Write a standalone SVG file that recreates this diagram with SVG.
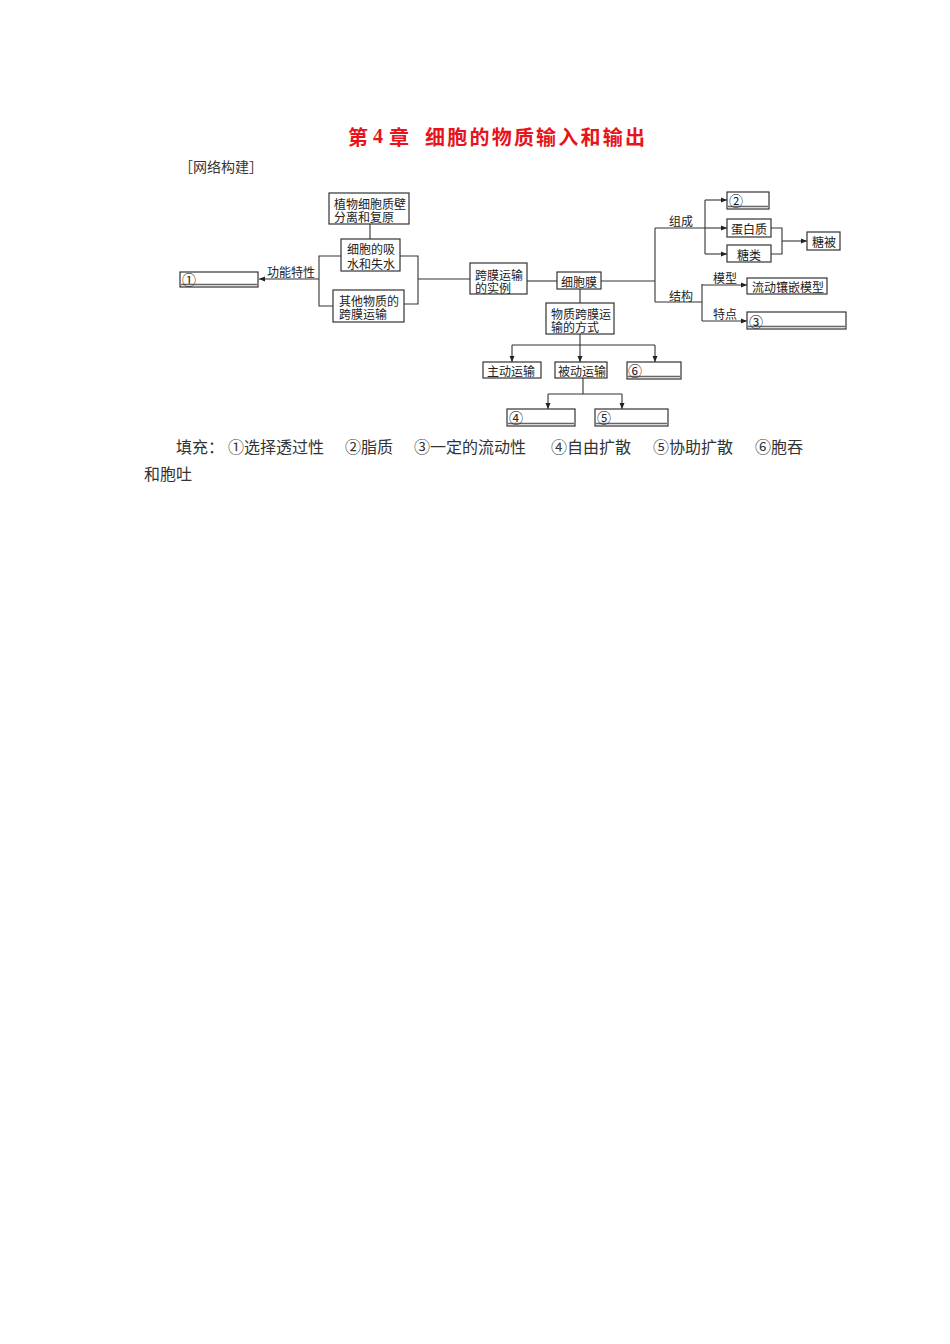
<svg xmlns="http://www.w3.org/2000/svg" width="950" height="1344" viewBox="0 0 950 1344">
<style>
text{font-family:"Noto Sans CJK SC","Noto Sans CJK JP",sans-serif;fill:#222}
.t{font-size:12px;dominant-baseline:central}
.c{font-size:14px;dominant-baseline:central}
.box{fill:#fff;stroke:#333;stroke-width:1.2}
.ln{fill:none;stroke:#333;stroke-width:1.1}
.ul{stroke:#666;stroke-width:1.4}
.title{font-size:20px;font-weight:bold;fill:#e8141b;dominant-baseline:central}
.body{font-size:16px;dominant-baseline:central;fill:#333}
</style>
<defs>
<marker id="ah" markerUnits="userSpaceOnUse" markerWidth="6" markerHeight="6" refX="6" refY="3" orient="auto">
<path d="M0,0.5 L6,3 L0,5.5 z" fill="#222"/>
</marker>
</defs>
<rect width="950" height="1344" fill="#fff"/>

<g id="title">
<text class="title" x="348" y="136">第</text>
<text class="title" x="373" y="136" style="font-family:'Liberation Serif',serif">4</text>
<text class="title" x="389" y="136">章</text>
<text class="title" x="425" y="136" textLength="220" lengthAdjust="spacing">细胞的物质输入和输出</text>
</g>
<g id="subtitle"><text class="body" x="179" y="166" style="font-size:14px">［网络构建］</text></g>

<g id="connectors">
<path class="ln" d="M370,224 V239"/>
<path class="ln" d="M341,256 H319 V306 H333"/>
<path class="ln" d="M319,279 H259" marker-end="url(#ah)"/>
<path class="ln" d="M400,256 H418 V304 H404"/>
<path class="ln" d="M418,279 H470"/>
<path class="ln" d="M527,281 H557"/>
<path class="ln" d="M601,281 H655"/>
<path class="ln" d="M655,228 V302"/>
<path class="ln" d="M655,228 H705"/>
<path class="ln" d="M705,200 V254"/>
<path class="ln" d="M705,200 H727" marker-end="url(#ah)"/>
<path class="ln" d="M705,228 H727" marker-end="url(#ah)"/>
<path class="ln" d="M705,254 H727" marker-end="url(#ah)"/>
<path class="ln" d="M771,228 H782 V254 H771"/>
<path class="ln" d="M782,241 H807" marker-end="url(#ah)"/>
<path class="ln" d="M655,302 H702"/>
<path class="ln" d="M702,284 V321"/>
<path class="ln" d="M702,285 H747" marker-end="url(#ah)"/>
<path class="ln" d="M702,321 H747" marker-end="url(#ah)"/>
<path class="ln" d="M580,289 V303"/>
<path class="ln" d="M580,334 V345"/>
<path class="ln" d="M512,345 H655"/>
<path class="ln" d="M512,345 V362" marker-end="url(#ah)"/>
<path class="ln" d="M580,345 V362" marker-end="url(#ah)"/>
<path class="ln" d="M655,345 V362" marker-end="url(#ah)"/>
<path class="ln" d="M583,378 V394"/>
<path class="ln" d="M548,394 H622"/>
<path class="ln" d="M548,394 V409" marker-end="url(#ah)"/>
<path class="ln" d="M622,394 V409" marker-end="url(#ah)"/>
<text class="t" x="267" y="271">功能特性</text>
<text class="t" x="669" y="220">组成</text>
<text class="t" x="669" y="295">结构</text>
<text class="t" x="713" y="277">模型</text>
<text class="t" x="713" y="313">特点</text>
</g>

<g id="n-plasmolysis"><rect class="box" x="329" y="193" width="80" height="31"/><text class="t"><tspan x="334" y="203">植物细胞质壁</tspan><tspan x="334" y="216">分离和复原</tspan></text></g>
<g id="n-water"><rect class="box" x="341" y="239" width="59" height="32"/><text class="t"><tspan x="347" y="248">细胞的吸</tspan><tspan x="347" y="263">水和失水</tspan></text></g>
<g id="n-other"><rect class="box" x="333" y="290" width="71" height="32"/><text class="t"><tspan x="339" y="300">其他物质的</tspan><tspan x="339" y="313">跨膜运输</tspan></text></g>
<g id="n-1"><rect class="box" x="180" y="272" width="78" height="15"/><line class="ul" x1="181" y1="284.5" x2="257" y2="284.5"/><text class="c" x="182" y="278.5">①</text></g>
<g id="n-examples"><rect class="box" x="470" y="263" width="57" height="31"/><text class="t"><tspan x="475" y="274">跨膜运输</tspan><tspan x="475" y="287">的实例</tspan></text></g>
<g id="n-membrane"><rect class="box" x="557" y="272" width="44" height="17"/><text class="t" x="561" y="281">细胞膜</text></g>
<g id="n-2"><rect class="box" x="727" y="192" width="42" height="17"/><line class="ul" x1="728" y1="206.5" x2="768" y2="206.5"/><text class="c" x="729" y="199.5">②</text></g>
<g id="n-protein"><rect class="box" x="727" y="219" width="44" height="18"/><text class="t" x="731" y="228">蛋白质</text></g>
<g id="n-sugar"><rect class="box" x="727" y="245" width="44" height="17"/><text class="t" x="737" y="254">糖类</text></g>
<g id="n-glycocalyx"><rect class="box" x="807" y="232" width="33" height="18"/><text class="t" x="812" y="241">糖被</text></g>
<g id="n-model"><rect class="box" x="747" y="278" width="80" height="16"/><text class="t" x="752" y="286.5">流动镶嵌模型</text></g>
<g id="n-3"><rect class="box" x="747" y="312" width="99" height="17"/><line class="ul" x1="748" y1="326.5" x2="845" y2="326.5"/><text class="c" x="749" y="320.5">③</text></g>
<g id="n-ways"><rect class="box" x="546" y="303" width="68" height="31"/><text class="t"><tspan x="551" y="313">物质跨膜运</tspan><tspan x="551" y="326">输的方式</tspan></text></g>
<g id="n-active"><rect class="box" x="483" y="362" width="58" height="16"/><text class="t" x="487" y="370.5">主动运输</text></g>
<g id="n-passive"><rect class="box" x="555" y="362" width="52" height="16"/><text class="t" x="558" y="370.5">被动运输</text></g>
<g id="n-6"><rect class="box" x="627" y="362" width="54" height="17"/><line class="ul" x1="628" y1="376.5" x2="680" y2="376.5"/><text class="c" x="628" y="369.5">⑥</text></g>
<g id="n-4"><rect class="box" x="507" y="409" width="68" height="17"/><line class="ul" x1="508" y1="423.5" x2="574" y2="423.5"/><text class="c" x="509" y="416.5">④</text></g>
<g id="n-5"><rect class="box" x="595" y="409" width="73" height="17"/><line class="ul" x1="596" y1="423.5" x2="667" y2="423.5"/><text class="c" x="597" y="416.5">⑤</text></g>

<g id="answers">
<text class="body" x="176" y="446">填充：</text>
<text class="body" x="228" y="446">①选择透过性</text>
<text class="body" x="345" y="446">②脂质</text>
<text class="body" x="414" y="446">③一定的流动性</text>
<text class="body" x="551" y="446">④自由扩散</text>
<text class="body" x="653" y="446">⑤协助扩散</text>
<text class="body" x="755" y="446">⑥胞吞</text>
<text class="body" x="144" y="473">和胞吐</text>
</g>
</svg>
